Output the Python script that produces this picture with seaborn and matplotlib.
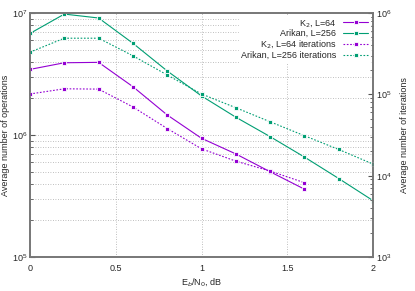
import numpy as np
import pandas as pd
import matplotlib
matplotlib.use("Agg")
import matplotlib.pyplot as plt
import seaborn as sns

# Eb/N0 points
snr = [0.0, 0.2, 0.4, 0.6, 0.8, 1.0, 1.2, 1.4, 1.6, 1.8, 2.0]
snr_k2 = [0.0, 0.2, 0.4, 0.6, 0.8, 1.0, 1.2, 1.4, 1.6]

# average number of operations (left axis)
k2_ops = [3.45e6, 3.91e6, 3.94e6, 2.49e6, 1.46e6, 9.4e5, 7.0e5, 5.0e5, 3.6e5]
arikan_ops = [6.8e6, 9.8e6, 9.1e6, 5.65e6, 3.35e6, 2.09e6, 1.40e6, 9.7e5, 6.6e5, 4.4e5, 2.9e5]

# average number of iterations (right axis)
k2_iter = [1.01e5, 1.17e5, 1.16e5, 7.0e4, 3.8e4, 2.14e4, 1.51e4, 1.14e4, 8.2e3]
arikan_iter = [3.3e5, 4.9e5, 4.9e5, 2.98e5, 1.73e5, 1.01e5, 6.85e4, 4.6e4, 3.1e4, 2.1e4, 1.39e4]

purple = "#9400d3"
green = "#009e73"

sns.set_style("white")
plt.rcParams["font.family"] = ["Liberation Sans", "DejaVu Sans"]
plt.rcParams["font.size"] = 6.5

fig = plt.figure(figsize=(4.15, 2.91), dpi=100)
ax = fig.add_axes([0.0723, 0.1168, 0.8265, 0.8385])
ax2 = ax.twinx()

mk = dict(marker="s", markersize=2.5, markeredgewidth=0.6)

sns.lineplot(x=snr_k2, y=k2_ops, ax=ax, color=purple, lw=0.8,
             label="K$_2$, L=64", **mk)
sns.lineplot(x=snr, y=arikan_ops, ax=ax, color=green, lw=0.8,
             label="Arikan, L=256", **mk)
sns.lineplot(x=snr_k2, y=k2_iter, ax=ax2, color=purple, lw=0.8, ls=(0, (1.5, 1.5)),
             label="K$_2$, L=64 iterations", **mk)
sns.lineplot(x=snr, y=arikan_iter, ax=ax2, color=green, lw=0.8, ls=(0, (1.5, 1.5)),
             label="Arikan, L=256 iterations", **mk)

ax.set_yscale("log")
ax2.set_yscale("log")
ax.set_xlim(0, 2)
ax.set_ylim(1e5, 1e7)
ax2.set_ylim(1e3, 1e6)
ax.set_xticks([0, 0.5, 1, 1.5, 2])
ax.set_xticklabels(["0", "0.5", "1", "1.5", "2"])

ax.set_xlabel("E$_b$/N$_0$, dB", fontsize=6.5, labelpad=2)
ax.set_ylabel("Average number of operations", fontsize=6.5, labelpad=1)
ax2.set_ylabel("Average number of iterations", fontsize=6.5, labelpad=6)

ax.grid(True, axis="x", which="major", color="#aaaaaa", ls=(0, (1, 2)), lw=0.6)
ax.grid(True, axis="y", which="both", color="#aaaaaa", ls=(0, (1, 2)), lw=0.6)
ax.set_axisbelow(True)

for a in (ax, ax2):
    a.tick_params(which="both", direction="in", labelsize=6.5, color="#555555", pad=2)
    for s in a.spines.values():
        s.set_color("#777777")
        s.set_linewidth(1.2)
ax.tick_params(axis="x", pad=5)

ax.get_legend().remove()
h1, l1 = ax.get_legend_handles_labels()
h2, l2 = ax2.get_legend_handles_labels()
ax2.legend(h1 + h2, l1 + l2, loc="upper right", markerfirst=False, frameon=True,
           fancybox=False, edgecolor="white", framealpha=1, fontsize=6.5,
           handlelength=2.8, labelspacing=0.05, borderaxespad=0.3, borderpad=0.2)

fig.savefig("out.png", dpi=100)
